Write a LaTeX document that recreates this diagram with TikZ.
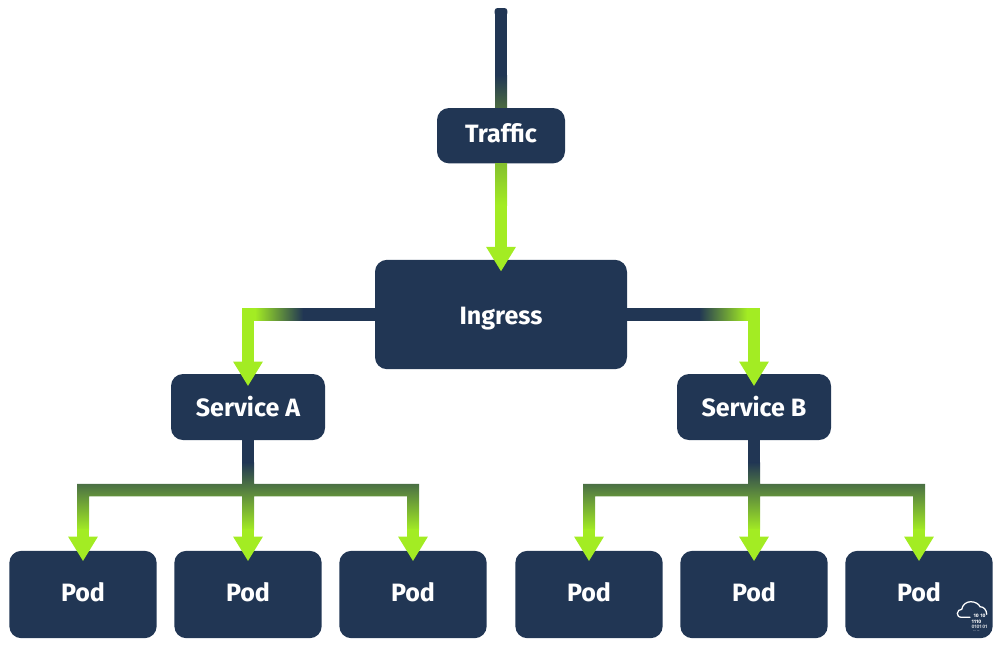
\documentclass[tikz,border=0pt]{standalone}
\usepackage{fontspec}
\setmainfont{Fira Sans}
\usetikzlibrary{arrows.meta,calc}
\definecolor{navy}{HTML}{213654}
\definecolor{lime}{HTML}{A3EC23}
\definecolor{midA}{HTML}{4C6B41}
\definecolor{midB}{HTML}{84C02E}
\tikzset{
  x=0.75pt,y=-0.75pt,
  box/.style={fill=navy,rounded corners=9pt,text=white,font=\fontsize{18.8}{20}\selectfont\bfseries,inner sep=0pt,anchor=center,text height=13.2pt,text depth=0pt},
  pod/.style={box,minimum width=110.5pt,minimum height=65.5pt},
  svc/.style={box,minimum width=115.5pt,minimum height=49.5pt},
  navyline/.style={draw=navy,line width=9.6pt},
  limeline/.style={draw=lime,line width=9.6pt,line join=miter,-{Triangle[width=21pt,length=18.5pt]}},
  treefill/.style={top color=navy,bottom color=lime},
  bits/.style={text=white,inner sep=0pt,font=\fontsize{3.7}{4}\selectfont\bfseries},
}
\newcommand{\up}[2]{\raisebox{#1}{#2}}
\newcommand{\podtree}[5]{%
  \coordinate (#5s) at ($(#1.south)+(0,22)$);
  \draw[navyline] (#1.south) -- ($(#5s)+(0,0.5)$);
  \shade[treefill] ($(#5s)+(-6,0)$) -- ++(0,21.5) -- ++(-165,0) -- ++(0,46.5) -- ++(12,0) -- ++(0,-34)
    -- ++(153,0) -- ++(0,34) -- ++(12,0) -- ++(0,-34) -- ++(153,0) -- ++(0,34) -- ++(12,0) -- ++(0,-46.5)
    -- ++(-165,0) -- ++(0,-21.5) -- cycle;
  \foreach \p/\n in {#2/a,#3/b,#4/c}{
    \coordinate (#5\n w) at ($(\p.north)+(0,-21.5)$);
    \coordinate (#5\n t) at ($(\p.north)+(0,10.7)$);
    \draw[limeline] (#5\n w) -- (#5\n t);
  }
}
\begin{document}
\begin{tikzpicture}
\useasboundingbox (0,0) rectangle (1002,647);
\node[box,minimum width=96pt,minimum height=41.5pt] (traffic) at (501,135.7) {\up{1.2pt}{Traffic}};
\node[box,minimum width=189pt,minimum height=82pt] (ingress) at (501,314.5) {\up{-0.8pt}{Ingress}};
\node[svc] (sa) at (248,407) {\up{-0.8pt}{Service A}};
\node[svc] (sb) at (754,407) {\up{-0.8pt}{Service B}};
\foreach \n/\x in {p1/83,p2/248,p3/413,p4/589,p5/754,p6/919}
  \node[pod] (\n) at (\x,594.5) {\up{1.5pt}{Pod}};
% top connector
\coordinate (src) at (501,8);
\coordinate (fadeA) at (501,75);
\coordinate (fadeB) at (501,205);
\coordinate (tipI) at ($(ingress.north)+(0,12)$);
\fill[navy] ($(src)+(-6.4,3)$) rectangle ($(fadeA)+(6.4,0.5)$);
\fill[navy,rounded corners=2.2pt] ($(src)+(-6.4,0)$) rectangle ($(src)+(6.4,8)$);
\shade[top color=navy,bottom color=midA] ($(fadeA)+(-6,0)$) rectangle ($(traffic.north)+(6,0)$);
\shade[top color=midB,bottom color=lime] ($(traffic.south)+(-6,0)$) rectangle ($(fadeB)+(6,0)$);
\draw[limeline] ($(fadeB)+(0,-0.5)$) -- (tipI);
% ingress to services
\coordinate (la) at (303,314.5);
\coordinate (lb) at (255,314.5);
\coordinate (ra) at (699,314.5);
\coordinate (rb) at (747,314.5);
\coordinate (tipA) at ($(sa.north)+(0,12.5)$);
\coordinate (tipB) at ($(sb.north)+(0,12.5)$);
\draw[navyline] (ingress.west |- la) -- ($(la)+(-0.5,0)$);
\draw[navyline] (ingress.east |- ra) -- ($(ra)+(0.5,0)$);
\shade[left color=lime,right color=navy] ($(lb)+(0,-6.4)$) rectangle ($(la)+(0,6.4)$);
\shade[left color=navy,right color=lime] ($(ra)+(0,-6.4)$) rectangle ($(rb)+(0,6.4)$);
\draw[limeline] ($(lb)+(0.5,0)$) -| (tipA);
\draw[limeline] ($(rb)+(-0.5,0)$) -| (tipB);
\podtree{sa}{p1}{p2}{p3}{A}
\podtree{sb}{p4}{p5}{p6}{B}
% logo
\draw[white,line width=0.95pt,line cap=round] (970,617.3) -- (961.7,617.3)
  .. controls (958.5,617.3) and (957.2,615.3) .. (957.3,613.3)
  .. controls (957.4,611) and (959.5,609.3) .. (961.7,609.3)
  .. controls (962.5,604.5) and (966.5,601.7) .. (970.7,601.7)
  .. controls (975,601.7) and (978.8,603.8) .. (980,606.7)
  .. controls (984,606.7) and (986.5,610) .. (986.7,614.3);
\node[bits] (b1) at (979.5,616) {10\,\,10};
\node[bits] (b2) at (976.5,621.7) {1110};
\node[bits,opacity=.75] (b3) at (979.5,626.8) {0101\,01};
\node[bits,opacity=.5] (b4) at (976.5,631) {.. ..};
\end{tikzpicture}
\end{document}
